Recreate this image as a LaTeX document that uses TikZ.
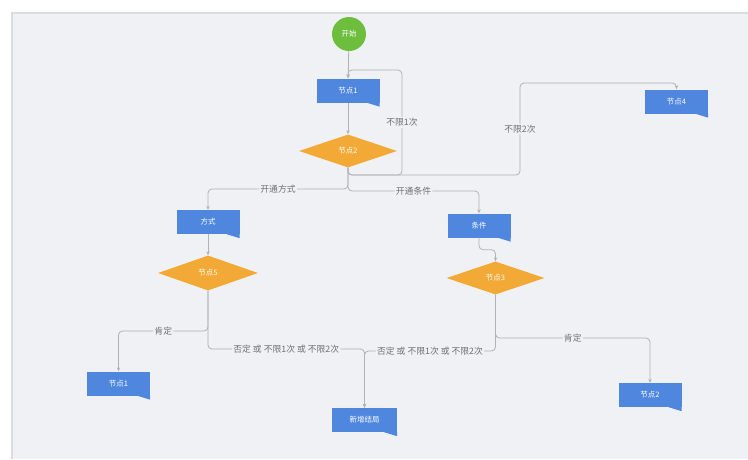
\documentclass[tikz,border=0pt]{standalone}
\usepackage{fontspec}
\newfontfamily\cjk{Noto Sans CJK SC}
\usetikzlibrary{
  shapes.geometric,
  arrows.meta,
  calc
}
\definecolor{panelgray}{HTML}{F0F1F5}
\definecolor{panelline}{HTML}{DADBDF}
\definecolor{nodeblue}{HTML}{4F87DF}
\definecolor{choiceorange}{HTML}{F2A935}
\definecolor{startgreen}{HTML}{6CBE3C}
\definecolor{linegray}{HTML}{B2B2B2}
\definecolor{labelgray}{HTML}{707070}

\begin{document}
\begin{tikzpicture}[
    x=1pt, y=-1pt,
    every node/.style={font=\cjk\fontsize{7.5}{9}\selectfont, align=center},
    startstop/.style={
      circle, fill=startgreen, text=white,
      minimum size=34pt, inner sep=0pt
    },
    process/.style={
      rectangle, fill=nodeblue, text=white,
      minimum width=63pt, minimum height=24pt, inner sep=1pt
    },
    decision/.style={
      diamond, fill=choiceorange, text=white,
      minimum width=98pt, minimum height=33pt,
      inner sep=0pt, aspect=3
    },
    edgelabel/.style={
      fill=panelgray, text=labelgray, inner sep=1.2pt,
      font=\cjk\fontsize{8.8}{10}\selectfont
    },
    arrow/.style={-{Stealth[length=4pt, width=3.4pt]}, draw=linegray,
      line width=0.8pt, rounded corners=4pt},
  ]

  % --- Canvas ---
  \useasboundingbox (0,0) rectangle (748,459);
  \fill[white] (0,0) rectangle (748,459);
  \fill[panelgray] (12,13) rectangle (748,459);
  \draw[panelline, line width=1.5pt] (12,459) -- (12,13) -- (748,13);

  % --- Nodes ---
  \node[startstop] (start) at (349,34) {开始};
  \node[process] (node1) at (348,90.5) {节点1};
  \node[decision] (check2) at (348,151) {节点2};
  \node[process] (node4) at (676.5,101.5) {节点4};

  \node[process] (mode) at (208,222) {方式};
  \node[process] (cond) at (479,225.5) {条件};

  \node[decision, minimum width=100pt, minimum height=35pt] (check5) at (208,273) {节点5};
  \node[decision] (check3) at (495.5,278) {节点3};

  \node[process] (result1) at (118.5,383.5) {节点1};
  \node[process, minimum width=65pt] (ending) at (364.5,420) {新增结局};
  \node[process] (result2) at (650,395) {节点2};

  % folded corner of the blue boxes
  \foreach \n in {node1,node4,mode,cond,result1,ending,result2}
    \fill[nodeblue] (\n.south east) -- ++(0,4) -- ++(-13,-4) -- cycle;

  % --- Routing coordinates ---
  \coordinate (splitTop) at (348,175);
  \coordinate (splitLeft) at (348,189);
  \coordinate (splitRight) at (348,191);
  \coordinate (loopOneTop) at (402,70);
  \coordinate (loopTwoTop) at (520,83);
  \coordinate (leftYes) at (208,331);
  \coordinate (leftNo) at (208,349);
  \coordinate (rightYes) at (495.5,338);
  \coordinate (rightNo) at (495.5,351);

  % --- Arrows ---
  \draw[arrow] (start) -- (node1);
  \draw[arrow] (node1) -- (check2);

  \draw[arrow] (check2.south) -- (splitTop) -- (splitTop -| loopOneTop)
    -- node[edgelabel] {不限1次} (loopOneTop) -- (loopOneTop -| node1.north) -- (node1.north);
  \draw[arrow] (check2.south) -- (splitTop) -- (splitTop -| loopTwoTop)
    -- node[edgelabel] {不限2次} (loopTwoTop) -- (loopTwoTop -| node4.north) -- (node4.north);

  \draw[arrow] (check2.south) -- (splitLeft)
    -- node[edgelabel] {开通方式} (splitLeft -| mode.north) -- (mode.north);
  \draw[arrow] (check2.south) -- (splitRight)
    -- node[edgelabel] {开通条件} (splitRight -| cond.north) -- (cond.north);

  \draw[arrow] (mode) -- (check5);
  \draw[arrow] (cond.south) -- ++(0,12) -| (check3.north);

  \draw[arrow] (check5.south) -- (leftYes)
    -- node[edgelabel] {肯定} (leftYes -| result1.north) -- (result1.north);
  \draw[arrow] (check5.south) -- (leftNo)
    -- node[edgelabel] {否定 或 不限1次 或 不限2次} (leftNo -| ending.north) -- (ending.north);

  \draw[arrow] (check3.south) -- (rightYes)
    -- node[edgelabel] {肯定} (rightYes -| result2.north) -- (result2.north);
  \draw[arrow] (check3.south) -- (rightNo)
    -- node[edgelabel] {否定 或 不限1次 或 不限2次} (rightNo -| ending.north) -- (ending.north);
\end{tikzpicture}
\end{document}
